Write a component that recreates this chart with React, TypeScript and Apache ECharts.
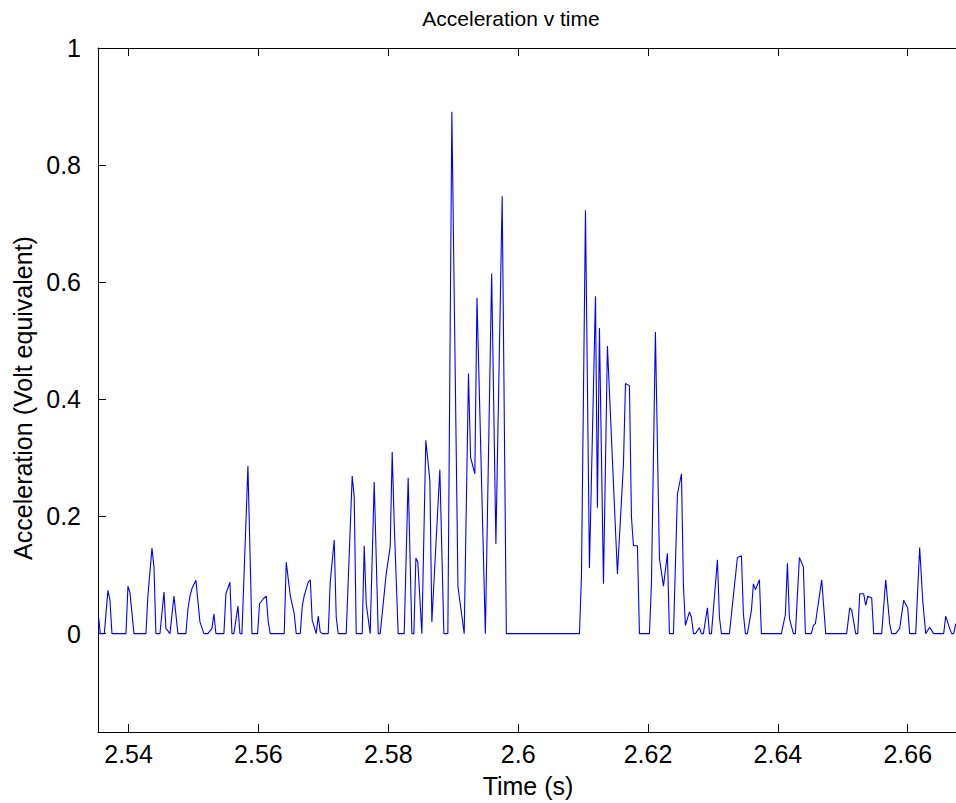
import React, { useEffect, useRef } from "react";
import * as echarts from "echarts";

// Sample times (s) and acceleration readings (volt equivalent)
const time = [
  2.53539, 2.53564, 2.53626, 2.53682, 2.53713, 2.53744, 2.5396, 2.5399, 2.54021, 2.54083,
  2.54267, 2.54298, 2.5436, 2.54391, 2.54421, 2.54483, 2.54545, 2.54575, 2.54637, 2.54699,
  2.5476, 2.54883, 2.54914, 2.54945, 2.54976, 2.55037, 2.55099, 2.5516, 2.55222, 2.55284,
  2.55314, 2.55345, 2.55468, 2.55499, 2.55561, 2.55592, 2.55622, 2.55684, 2.55715, 2.55746,
  2.55838, 2.559, 2.55987, 2.56017, 2.56079, 2.5612, 2.56151, 2.56182, 2.56397, 2.56428,
  2.5649, 2.56551, 2.56582, 2.56644, 2.56674, 2.56705, 2.56767, 2.56798, 2.56828, 2.5689,
  2.56921, 2.56952, 2.56982, 2.57075, 2.57105, 2.57167, 2.57198, 2.57229, 2.57352, 2.57444,
  2.57475, 2.57506, 2.57598, 2.57629, 2.5766, 2.57721, 2.57783, 2.57845, 2.57875, 2.57968,
  2.58029, 2.5806, 2.58091, 2.58152, 2.58245, 2.58306, 2.58363, 2.58394, 2.58425, 2.58455,
  2.58517, 2.58578, 2.5864, 2.58671, 2.58794, 2.58856, 2.58917, 2.58979, 2.59073, 2.59169,
  2.59235, 2.59267, 2.59333, 2.59366, 2.59495, 2.59592, 2.59657, 2.59754, 2.59818, 2.60944,
  2.60975, 2.61037, 2.61098, 2.61191, 2.61221, 2.61252, 2.61314, 2.61375, 2.61529, 2.61622,
  2.61653, 2.61714, 2.61745, 2.61776, 2.61837, 2.61868, 2.62022, 2.62053, 2.62114, 2.62176,
  2.62238, 2.62299, 2.6233, 2.62392, 2.62453, 2.62515, 2.62546, 2.62576, 2.62638, 2.62669,
  2.627, 2.6273, 2.62792, 2.62823, 2.62853, 2.62915, 2.62946, 2.62977, 2.63069, 2.631,
  2.63131, 2.63254, 2.63377, 2.63439, 2.63469, 2.635, 2.63531, 2.63593, 2.63623, 2.63654,
  2.63716, 2.63746, 2.64054, 2.64116, 2.64147, 2.64178, 2.64239, 2.6427, 2.64332, 2.64393,
  2.64424, 2.64516, 2.64547, 2.64578, 2.64675, 2.64737, 2.6506, 2.65107, 2.65137, 2.65199,
  2.6523, 2.65261, 2.65322, 2.65353, 2.65384, 2.65445, 2.65476, 2.65599, 2.65661, 2.65722,
  2.65753, 2.65815, 2.65876, 2.65938, 2.66, 2.6603, 2.66123, 2.66184, 2.66231, 2.66277,
  2.66338, 2.664, 2.66554, 2.66585, 2.66646, 2.66677, 2.66708, 2.66739,
];

const accel = [
  0.027, 0, 0, 0.074, 0.057, 0, 0, 0.081, 0.07, 0,
  0, 0.065, 0.146, 0.114, 0, 0, 0.071, 0.009, 0, 0.064,
  0, 0, 0.042, 0.064, 0.077, 0.091, 0.02, 0, 0, 0.009,
  0.034, 0, 0, 0.068, 0.088, 0, 0, 0.047, 0, 0,
  0.286, 0, 0, 0.051, 0.06, 0.064, 0.02, 0, 0, 0.122,
  0.065, 0.034, 0, 0, 0.046, 0.065, 0.088, 0.092, 0.023, 0,
  0.03, 0.003, 0, 0, 0.087, 0.16, 0.028, 0, 0, 0.269,
  0.233, 0, 0, 0.15, 0.051, 0, 0.259, 0, 0, 0.102,
  0.148, 0.31, 0.188, 0, 0, 0.266, 0, 0, 0.129, 0.122,
  0, 0.33, 0.262, 0.02, 0.28, 0, 0, 0.891, 0.08, 0,
  0.444, 0.301, 0.273, 0.573, 0, 0.615, 0.153, 0.747, 0, 0,
  0.097, 0.723, 0.112, 0.576, 0.215, 0.522, 0.085, 0.491, 0.102, 0.29,
  0.427, 0.423, 0.199, 0.15, 0.15, 0, 0, 0.085, 0.515, 0.128,
  0.081, 0.137, 0, 0, 0.238, 0.273, 0.08, 0.014, 0.037, 0.028,
  0, 0, 0.01, 0, 0, 0.044, 0, 0, 0.126, 0.028,
  0, 0, 0.13, 0.133, 0.034, 0, 0, 0.04, 0.085, 0.075,
  0.092, 0, 0, 0.033, 0.12, 0.026, 0, 0, 0.13, 0.114,
  0, 0, 0.014, 0.017, 0.092, 0, 0, 0.044, 0.04, 0,
  0, 0.068, 0.068, 0.048, 0.064, 0.061, 0, 0, 0.092, 0.017,
  0, 0, 0.009, 0.057, 0.044, 0, 0, 0.147, 0.057, 0,
  0.011, 0, 0, 0.03, 0.009, 0, 0, 0.017,
];

const xTicks = [2.54, 2.56, 2.58, 2.6, 2.62, 2.64, 2.66];
const yTicks = [0, 0.2, 0.4, 0.6, 0.8, 1];

const X_MIN = 2.535289;
const X_MAX = 2.667436;
const Y_MIN = -0.168;
const Y_MAX = 1;

const TITLE = "Acceleration v time";
const X_NAME = "Time (s)";
const Y_NAME = "Acceleration (Volt equivalent)";

const FONT = "'Liberation Sans', Arial, Helvetica, sans-serif";
const FONT_SIZE = 25;

const fmt = (v: number) => String(Math.round(v * 100) / 100);

export default function App() {
  const ref = useRef<HTMLDivElement>(null);

  useEffect(() => {
    if (!ref.current) return;
    const chart = echarts.init(ref.current, null, { renderer: "svg" });

    const tickStyle = { color: "#000", width: 1 };
    const lineStyle = { color: "#000", width: 1 };

    const baseX = {
      type: "value" as const,
      min: X_MIN,
      max: X_MAX,
      splitLine: { show: false },
      axisLine: { show: true, onZero: false, lineStyle },
      axisTick: { show: true, inside: true, length: 8, customValues: xTicks, lineStyle: tickStyle },
    };

    chart.setOption({
      animation: false,
      backgroundColor: "#fff",
      grid: { left: 98, right: 0, top: 48, bottom: 71, containLabel: false },
      xAxis: [
        {
          ...baseX,
          position: "bottom",
          axisLabel: {
            show: true,
            customValues: xTicks,
            formatter: fmt,
            color: "#000",
            fontFamily: FONT,
            fontSize: FONT_SIZE,
            margin: 9,
          },
        },
        {
          ...baseX,
          position: "top",
          axisLabel: { show: false },
        },
      ],
      yAxis: [
        {
          type: "value",
          min: Y_MIN,
          max: Y_MAX,
          position: "left",
          splitLine: { show: false },
          axisLine: { show: true, onZero: false, lineStyle },
          axisTick: { show: true, inside: true, length: 8, customValues: yTicks, lineStyle: tickStyle },
          axisLabel: {
            show: true,
            customValues: yTicks,
            formatter: fmt,
            color: "#000",
            fontFamily: FONT,
            fontSize: FONT_SIZE,
            margin: 17,
          },
        },
      ],
      graphic: [
        {
          type: "text",
          x: 511,
          y: 18,
          style: {
            text: TITLE,
            fill: "#000",
            fontFamily: FONT,
            fontSize: 21,
            align: "center",
            verticalAlign: "middle",
          },
        },
        {
          type: "text",
          x: 528,
          y: 786,
          style: {
            text: X_NAME,
            fill: "#000",
            fontFamily: FONT,
            fontSize: FONT_SIZE,
            align: "center",
            verticalAlign: "middle",
          },
        },
        {
          type: "text",
          x: 23,
          y: 398,
          rotation: Math.PI / 2,
          style: {
            text: Y_NAME,
            fill: "#000",
            fontFamily: FONT,
            fontSize: FONT_SIZE,
            align: "center",
            verticalAlign: "middle",
          },
        },
      ],
      series: [
        {
          type: "line",
          xAxisIndex: 0,
          yAxisIndex: 0,
          data: time.map((t, i) => [t, accel[i]]),
          showSymbol: false,
          symbol: "none",
          lineStyle: { color: "#0000ff", width: 1.1 },
          clip: true,
        },
      ],
    });

    return () => chart.dispose();
  }, []);

  return (
    <div
      ref={ref}
      style={{ position: "absolute", left: 0, top: 0, width: 956, height: 803, background: "#fff" }}
    />
  );
}
